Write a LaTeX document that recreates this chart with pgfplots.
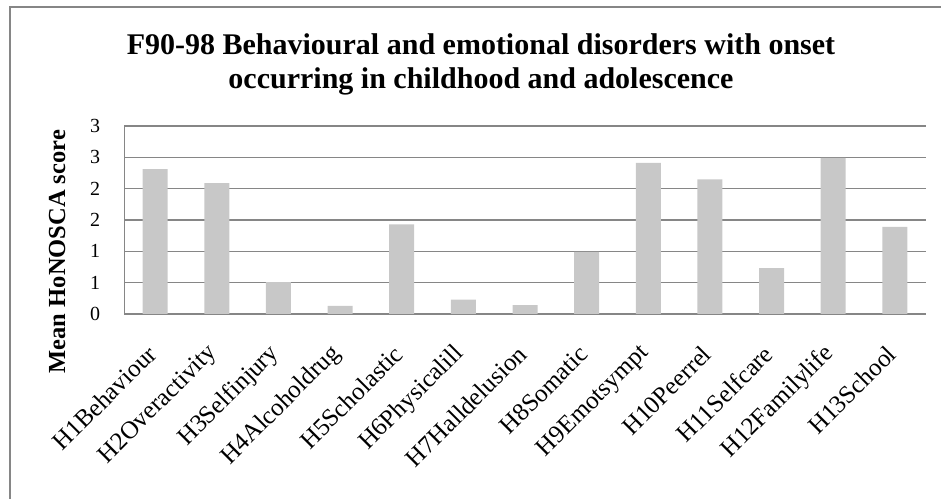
\documentclass[border=0pt]{standalone}
\usepackage{fontspec}
\setmainfont{Liberation Serif}
\usepackage{pgfplots}
\pgfplotsset{compat=1.18}
\definecolor{barfill}{RGB}{200,200,200}
\definecolor{linegray}{RGB}{134,134,134}

\begin{document}
\begin{tikzpicture}[x=1bp,y=1bp]
\useasboundingbox (0,0) rectangle (941,499);
% chart area frame (left and top edges)
\draw[linegray, line width=1.5bp] (10,-5) -- (10,492) -- (946,492);
% title
\node[font=\bfseries\fontsize{30bp}{35bp}\selectfont, anchor=base, inner sep=0pt]
  at (481,444.7) {F90-98 Behavioural and emotional disorders with onset};
\node[font=\bfseries\fontsize{30bp}{35bp}\selectfont, anchor=base, inner sep=0pt]
  at (481,410.7) {occurring in childhood and adolescence};
% y axis title
\node[font=\bfseries\fontsize{24.5bp}{29bp}\selectfont, rotate=90, anchor=base, inner sep=0pt]
  at (65,247.3) {Mean HoNOSCA score};
\begin{axis}[
  at={(124.3bp,185bp)}, anchor=south west,
  scale only axis, width=801.4bp, height=188bp,
  xmin=-0.5, xmax=12.5, ymin=0, ymax=3,
  axis x line*=bottom, axis y line*=left,
  axis line style={linegray, line width=1.5bp},
  ymajorgrids, grid style={linegray, line width=1.5bp},
  major tick length=0pt,
  ytick={0,0.5,1,1.5,2,2.5,3},
  yticklabels={0,1,1,2,2,3,3},
  yticklabel style={font=\fontsize{20bp}{23bp}\selectfont, anchor=east, inner sep=0pt, xshift=-24bp},
  xtick={0,...,12},
  xticklabels={H1Behaviour,H2Overactivity,H3Selfinjury,H4Alcoholdrug,H5Scholastic,H6Physicalill,H7Halldelusion,H8Somatic,H9Emotsympt,H10Peerrel,H11Selfcare,H12Familylife,H13School},
  xticklabel style={font=\fontsize{25bp}{29bp}\selectfont, inner sep=0pt, anchor=east, xshift=-3bp, yshift=-36bp, rotate=45},
  /pgf/number format/assume math mode=true,
]
\addplot[ybar, bar width=25bp, fill=barfill, draw=none] coordinates {
  (0,2.31) (1,2.09) (2,0.51) (3,0.13) (4,1.43) (5,0.23) (6,0.14)
  (7,0.99) (8,2.41) (9,2.15) (10,0.73) (11,2.49) (12,1.39)
};
\end{axis}
\end{tikzpicture}
\end{document}
